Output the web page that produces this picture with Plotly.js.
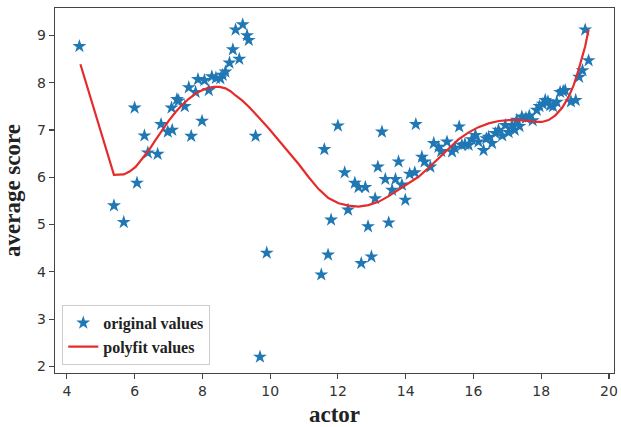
<!DOCTYPE html>
<html>
<head>
<meta charset="utf-8">
<script src="https://cdn.plot.ly/plotly-3.0.1.min.js"></script>
<style>
  html, body { margin: 0; padding: 0; background: #fff; }
  #chart { width: 621px; height: 427px; }
</style>
</head>
<body>
<div id="chart"></div>
<script>
// actor count vs. average score, raw observations
const actorX = [
  4.37, 5.39, 5.68, 6.0, 6.07, 6.29, 6.39, 6.68, 6.78, 6.98,
  7.09, 7.11, 7.25, 7.3, 7.48, 7.6, 7.67, 7.8, 7.87, 7.99,
  8.06, 8.19, 8.28, 8.4, 8.53, 8.6, 8.68, 8.8, 8.9, 8.98,
  9.09, 9.19, 9.32, 9.37, 9.57, 9.7, 9.9,
  11.51, 11.6, 11.71, 11.8, 12.0, 12.2, 12.3, 12.5, 12.61, 12.69,
  12.81, 12.89, 12.99, 13.1, 13.18, 13.3, 13.4, 13.5, 13.6, 13.7,
  13.79, 13.89, 13.99, 14.12, 14.27, 14.3,
  14.48, 14.56, 14.73, 14.83, 14.97, 15.05, 15.22, 15.37, 15.45, 15.58,
  15.66, 15.75, 15.86, 15.95, 16.06, 16.15, 16.3, 16.38, 16.45, 16.55,
  16.65, 16.74, 16.85, 16.94, 17.04, 17.14, 17.22, 17.28, 17.36, 17.43,
  17.55, 17.65, 17.75, 17.87, 17.95, 18.05, 18.12, 18.2, 18.27, 18.35,
  18.46, 18.56, 18.65, 18.71, 18.88, 19.02, 19.12, 19.22, 19.3, 19.4
];
const scoreY = [
  8.77, 5.40, 5.05, 7.47, 5.88, 6.88, 6.52, 6.49, 7.12, 6.96,
  7.47, 7.0, 7.65, 7.62, 7.5, 7.9, 6.87, 7.8, 8.07, 7.19,
  8.05, 7.84, 8.13, 8.1, 8.09, 8.16, 8.23, 8.42, 8.7, 9.12,
  8.5, 9.23, 9.0, 8.9, 6.87, 2.2, 4.4,
  3.94, 6.59, 4.36, 5.1, 7.09, 6.1, 5.31, 5.88, 5.79, 4.18,
  5.79, 4.96, 4.32, 5.55, 6.22, 6.96, 5.96, 5.04, 5.73, 5.96,
  6.33, 5.84, 5.52, 6.07, 6.1, 7.12,
  6.43, 6.33, 6.22, 6.72, 6.64, 6.55, 6.75, 6.54, 6.62, 7.07,
  6.68, 6.7, 6.68, 6.8, 6.89, 6.75, 6.57, 6.82, 6.85, 6.72,
  6.93, 7.0, 6.88, 7.1, 6.95, 7.1, 7.0, 7.21, 7.08, 7.28,
  7.25, 7.3, 7.2, 7.42, 7.5, 7.55, 7.63, 7.6, 7.52, 7.5,
  7.59, 7.8, 7.82, 7.84, 7.6, 7.63, 8.12, 8.26, 9.12, 8.47
];

// fitted polynomial, evaluated along the actor axis
const fitX = [
  4.4, 5.39, 5.68, 5.85, 6.03, 6.22, 6.42, 6.61, 6.81, 7.01,
  7.21, 7.4, 7.6, 7.8, 7.99, 8.17, 8.34, 8.51, 8.68, 8.83,
  8.98, 9.18, 9.37, 9.51, 9.66, 9.96, 10.25, 10.55, 10.84, 11.14,
  11.43, 11.72, 12.02, 12.31, 12.61, 12.9, 13.2, 13.5, 13.79, 14.08,
  14.38, 14.68, 14.97, 15.27, 15.56, 15.86, 16.15, 16.45, 16.75, 17.04,
  17.34, 17.63, 17.83, 18.02, 18.22, 18.42, 18.62, 18.81, 18.96, 19.1,
  19.2, 19.3, 19.4
];
const fitY = [
  8.39, 6.05, 6.06, 6.12, 6.22, 6.38, 6.57, 6.78, 7.0, 7.2,
  7.38, 7.53, 7.66, 7.77, 7.84, 7.89, 7.91, 7.91, 7.88, 7.82,
  7.73, 7.62, 7.49, 7.39, 7.27, 7.03, 6.79, 6.54, 6.28, 6.0,
  5.75, 5.56, 5.45, 5.4, 5.38, 5.41, 5.48, 5.6, 5.73, 5.86,
  6.01, 6.2, 6.4, 6.61, 6.8, 6.95, 7.06, 7.14, 7.19, 7.21,
  7.21, 7.19, 7.17, 7.17, 7.21, 7.31, 7.47, 7.7, 7.95, 8.26,
  8.5, 8.77, 9.12
];

const xTicks = [4, 6, 8, 10, 12, 14, 16, 18, 20];
const yTicks = [2, 3, 4, 5, 6, 7, 8, 9];

const traces = [
  {
    x: actorX, y: scoreY,
    type: 'scatter', mode: 'markers',
    name: 'original values',
    marker: { symbol: 'star', size: 10.5, color: '#1f77b4', line: { width: 0 } }
  },
  {
    x: fitX, y: fitY,
    type: 'scatter', mode: 'lines',
    name: 'polyfit values',
    line: { color: '#e52b2b', width: 2.2 }
  }
];

const axisCommon = {
  showgrid: false, zeroline: false,
  showline: true, mirror: true, linecolor: '#444', linewidth: 1.2,
  ticks: 'outside', ticklen: 5, tickwidth: 1.2, tickcolor: '#444',
  tickfont: { family: 'DejaVu Sans', size: 14, color: '#333' }
};

const layout = {
  width: 621, height: 427,
  margin: { l: 55, r: 7, t: 8, b: 54 },
  paper_bgcolor: '#fff', plot_bgcolor: '#fff',
  showlegend: true,
  xaxis: Object.assign({}, axisCommon, {
    range: [3.65, 20.15],
    tickvals: xTicks,
    title: { text: 'actor', standoff: 8,
             font: { family: 'Liberation Serif', size: 23, color: '#222', weight: 'bold' } }
  }),
  yaxis: Object.assign({}, axisCommon, {
    range: [1.86, 9.58],
    tickvals: yTicks,
    title: { text: 'average score', standoff: 10,
             font: { family: 'Liberation Serif', size: 23, color: '#222', weight: 'bold' } }
  }),
  legend: {
    x: 0.013, y: 0.022, xanchor: 'left', yanchor: 'bottom',
    bgcolor: '#fff', bordercolor: '#ccc', borderwidth: 1,
    font: { family: 'Liberation Serif', size: 16, color: '#222', weight: 'bold' },
    tracegroupgap: 2
  }
};

Plotly.newPlot('chart', traces, layout, { displayModeBar: false, staticPlot: true });
</script>
</body>
</html>
